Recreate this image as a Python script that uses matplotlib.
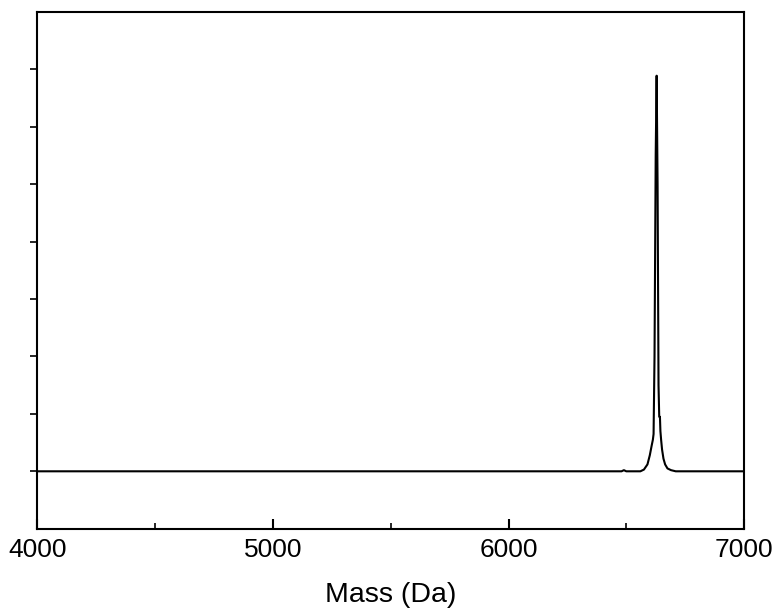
import matplotlib
matplotlib.use("Agg")
import matplotlib.pyplot as plt
from matplotlib.ticker import MultipleLocator

plt.rcParams['font.family'] = ['Liberation Sans', 'DejaVu Sans']

# Spectrum points (mass in Da, relative intensity)
mass = [4000, 6480, 6490, 6500, 6560, 6575, 6590, 6600, 6608, 6613, 6616,
        6620, 6625, 6629, 6633, 6637, 6640, 6643, 6645, 6648, 6652, 6658,
        6665, 6675, 6690, 6710, 7000]
intensity = [0, 0, 0.02, 0, 0, 0.03, 0.12, 0.28, 0.45, 0.55, 0.65,
             2.0, 5.5, 6.89, 5.0, 1.5, 0.95, 0.95, 0.7, 0.55, 0.38, 0.22,
             0.12, 0.05, 0.02, 0, 0]

x_major_ticks = [4000, 5000, 6000, 7000]
x_tick_labels = ["4000", "5000", "6000", "7000"]
y_ticks = [0, 1, 2, 3, 4, 5, 6, 7]

fig = plt.figure(figsize=(7.73, 6.08), dpi=100)
ax = fig.add_axes([0.0485, 0.1304, 0.914, 0.8499])

ax.plot(mass, intensity, color='black', linewidth=1.5)

ax.set_xlim(4000, 7000)
ax.set_ylim(-1, 8)
ax.set_xticks(x_major_ticks)
ax.set_xticklabels(x_tick_labels)
ax.xaxis.set_minor_locator(MultipleLocator(500))
ax.set_yticks(y_ticks)
ax.set_yticklabels([])

ax.tick_params(axis='x', which='major', direction='in', length=7, width=1.5,
               labelsize=19, pad=7)
ax.tick_params(axis='x', which='minor', direction='in', length=4, width=1.2)
ax.tick_params(axis='y', which='major', direction='out', length=5, width=1.2)

for s in ax.spines.values():
    s.set_linewidth(1.5)

ax.set_xlabel("Mass (Da)", fontsize=20.5, labelpad=14)

fig.savefig("out.png", dpi=100)
